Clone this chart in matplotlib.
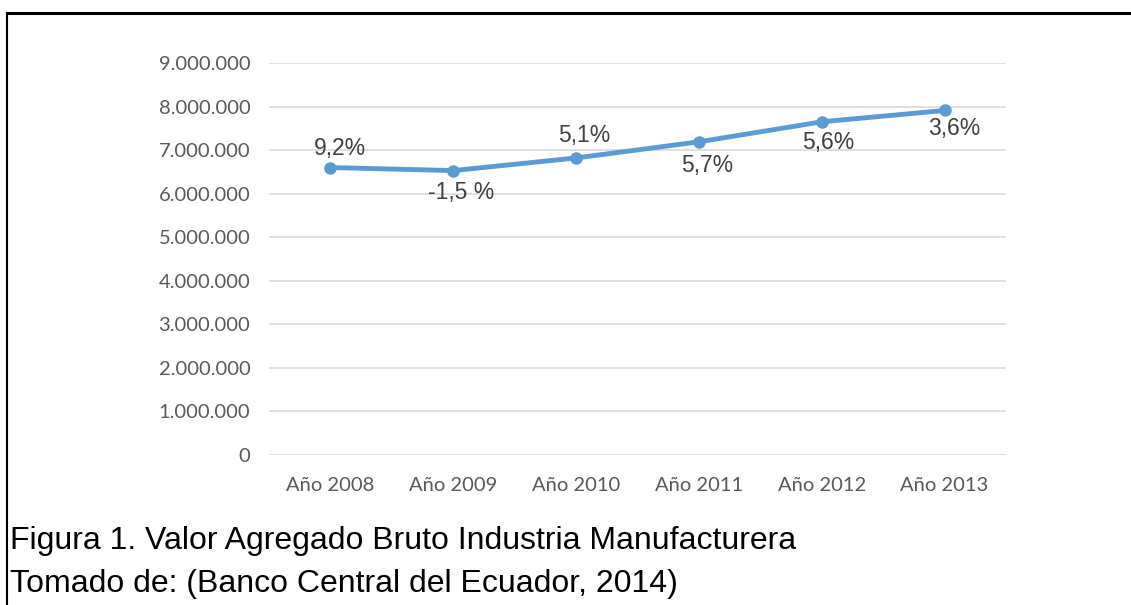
import matplotlib.pyplot as plt
from matplotlib.ticker import FuncFormatter, MultipleLocator
from matplotlib.lines import Line2D

years = ["Año 2008", "Año 2009", "Año 2010", "Año 2011", "Año 2012", "Año 2013"]
vab = [6600000, 6530000, 6820000, 7190000, 7650000, 7910000]
growth = ["9,2%", "-1,5 %", "5,1%", "5,7%", "5,6%", "3,6%"]

fig = plt.figure(figsize=(11.31, 6.05), dpi=100)
W, H = 1131, 605
ax = fig.add_axes([269 / W, 1 - 455 / H, 737 / W, 392 / H])

x = range(len(years))
ax.plot(x, vab, color="#5b9bd5", lw=3.5, marker="o", ms=8, solid_capstyle="round")

# label offsets (points) -> above / below the markers like the original
offsets = [(7, 14), (6, -16), (6, 16), (6, -17), (5, -15), (7, -13)]
for i, (v, t) in enumerate(zip(vab, growth)):
    ax.annotate(t, (i, v), xytext=offsets[i], textcoords="offset points",
                ha="center", va="center", fontsize=16.5, color="#404040",
                family="Liberation Sans")

ax.set_xlim(-0.5, len(years) - 0.5)
ax.set_ylim(0, 9000000)
ax.yaxis.set_major_locator(MultipleLocator(1000000))
ax.yaxis.set_major_formatter(FuncFormatter(lambda v, p: f"{int(v):,}".replace(",", ".")))
ax.set_xticks(list(x))
ax.set_xticklabels(years)
ax.grid(axis="y", color="#d9d9d9", lw=1.2)
ax.set_axisbelow(True)
for s in ax.spines.values():
    s.set_visible(False)
ax.tick_params(length=0, labelsize=14.5, labelcolor="#595959")
ax.tick_params(axis="y", pad=13.5)
ax.tick_params(axis="x", pad=16)
for lab in ax.get_xticklabels() + ax.get_yticklabels():
    lab.set_family("Lato")

# frame lines (top and left)
fig.add_artist(Line2D([7 / W, 1], [1 - 13 / H, 1 - 13 / H], color="black", lw=2.2))
fig.add_artist(Line2D([7 / W, 7 / W], [0, 1 - 13 / H], color="black", lw=1.5))

fig.text(10 / W, 1 - 541 / H, "Figura 1. Valor Agregado Bruto Industria Manufacturera",
         fontsize=23, family="Liberation Sans", va="center", ha="left")
fig.text(10 / W, 1 - 584 / H, "Tomado de: (Banco Central del Ecuador, 2014)",
         fontsize=23, family="Liberation Sans", va="center", ha="left")

fig.savefig("out.png", dpi=100)
